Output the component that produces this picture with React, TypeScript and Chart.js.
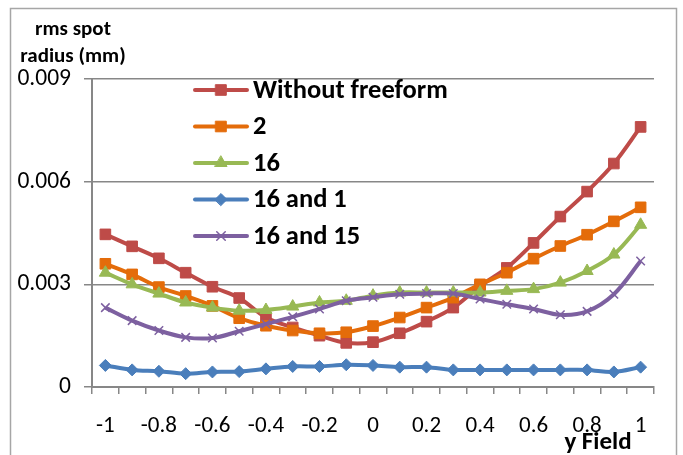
import React, { useEffect, useRef } from 'react';
import { Chart, registerables } from 'chart.js';
import { drawPoint } from 'chart.js/helpers';

Chart.register(...registerables);

// Normalised field positions along y
const fieldLabels = [
  '-1', '-0.9', '-0.8', '-0.7', '-0.6', '-0.5', '-0.4', '-0.3', '-0.2', '-0.1', '0',
  '0.1', '0.2', '0.3', '0.4', '0.5', '0.6', '0.7', '0.8', '0.9', '1',
];

// RMS spot radius (mm) for each surface configuration
const withoutFreeform = [
  0.00446, 0.00411, 0.00376, 0.00334, 0.00293, 0.0026, 0.00203, 0.00174, 0.0015, 0.00129, 0.00131,
  0.00157, 0.00191, 0.00232, 0.00295, 0.00348, 0.00421, 0.00498, 0.00571, 0.00653, 0.0076,
];
const surface2 = [
  0.0036, 0.00329, 0.00292, 0.00266, 0.00237, 0.00201, 0.00179, 0.00165, 0.00157, 0.0016, 0.00178,
  0.00203, 0.00232, 0.00261, 0.003, 0.00334, 0.00375, 0.00412, 0.00445, 0.00484, 0.00525,
];
const surface16 = [
  0.00334, 0.003, 0.00273, 0.00247, 0.00232, 0.00223, 0.00225, 0.00235, 0.00247, 0.00252, 0.00267,
  0.00276, 0.00276, 0.00276, 0.00276, 0.00281, 0.00286, 0.00305, 0.00339, 0.00387, 0.00474,
];
const surface16and1 = [
  0.00063, 0.0005, 0.00046, 0.00039, 0.00044, 0.00045, 0.00053, 0.0006, 0.0006, 0.00065, 0.00063,
  0.00058, 0.00058, 0.0005, 0.0005, 0.0005, 0.0005, 0.0005, 0.0005, 0.00044, 0.00058,
];
const surface16and15 = [
  0.00232, 0.00194, 0.00165, 0.00145, 0.00143, 0.00163, 0.00184, 0.00205, 0.00228, 0.00252, 0.00262,
  0.00271, 0.00273, 0.00273, 0.00257, 0.00242, 0.00228, 0.00211, 0.00221, 0.00271, 0.00368,
];

const yTicks = [0, 0.003, 0.006, 0.009];
const yTickLabels = ['0', '0.003', '0.006', '0.009'];

const seriesNames = ['Without freeform', '2', '16', '16 and 1', '16 and 15'];
const seriesColors = ['#BE4B48', '#E46C0A', '#98B954', '#4A7EBB', '#7D60A0'];
const seriesData = [withoutFreeform, surface2, surface16, surface16and1, surface16and15];
const seriesMarkers = ['rect', 'rect', 'triangle', 'rectRot', 'crossRot'];
const markerRadius = [7.5, 7.5, 7, 6, 6];

const FONT = 'Carlito, Lato, "Liberation Sans", sans-serif';
const GRID = '#878787';

const decorPlugin = {
  id: 'decor',
  afterDraw(chart: any) {
    const ctx = chart.ctx as CanvasRenderingContext2D;
    ctx.save();

    // outer frame
    ctx.strokeStyle = '#a6a6a6';
    ctx.lineWidth = 1.5;
    ctx.strokeRect(10.5, 8.5, 666, 470);

    // y axis title
    ctx.fillStyle = '#000';
    ctx.font = `bold 21px ${FONT}`;
    ctx.textAlign = 'center';
    ctx.textBaseline = 'alphabetic';
    ctx.fillText('rms spot', 73, 35);
    ctx.fillText('radius (mm)', 73, 62);

    // x axis title
    ctx.font = `bold 25px ${FONT}`;
    ctx.fillText('y Field', 598, 449);

    // legend
    const rows = [90, 126.5, 163, 199.5, 236];
    seriesNames.forEach((name, i) => {
      const y = rows[i];
      ctx.strokeStyle = seriesColors[i];
      ctx.fillStyle = seriesColors[i];
      ctx.lineWidth = 4;
      ctx.lineCap = 'round';
      ctx.beginPath();
      ctx.moveTo(195, y);
      ctx.lineTo(247, y);
      ctx.stroke();
      ctx.lineWidth = seriesMarkers[i] === 'crossRot' ? 1.5 : 1;
      drawPoint(ctx, { pointStyle: seriesMarkers[i], radius: markerRadius[i], rotation: 0, borderWidth: ctx.lineWidth } as any, 221, y);
      ctx.fillStyle = '#000';
      ctx.font = `bold 26.5px ${FONT}`;
      ctx.textAlign = 'left';
      ctx.textBaseline = 'middle';
      ctx.fillText(name, 253, y + 1);
    });

    ctx.restore();
  },
};

export default function App() {
  const canvasRef = useRef<HTMLCanvasElement | null>(null);

  useEffect(() => {
    document.body.style.margin = '0';
    const canvas = canvasRef.current;
    if (!canvas) return;

    const chart = new Chart(canvas, {
      type: 'line',
      data: {
        labels: fieldLabels,
        datasets: seriesData.map((data, i) => ({
          label: seriesNames[i],
          data,
          borderColor: seriesColors[i],
          backgroundColor: seriesColors[i],
          borderWidth: 4,
          tension: 0.35,
          pointStyle: seriesMarkers[i] as any,
          pointRadius: markerRadius[i],
          pointBorderWidth: seriesMarkers[i] === 'crossRot' ? 1.5 : 1,
          pointBorderColor: seriesColors[i],
          pointBackgroundColor: seriesColors[i],
          order: seriesData.length - i,
          fill: false,
        })),
      },
      options: {
        responsive: false,
        animation: false,
        layout: { padding: { left: 0, top: 79, right: 29, bottom: 0 } },
        plugins: {
          legend: { display: false },
          tooltip: { enabled: false },
        },
        scales: {
          x: {
            type: 'category',
            offset: true,
            grid: {
              offset: true,
              drawOnChartArea: false,
              drawTicks: true,
              tickLength: 7,
              color: GRID,
              lineWidth: 1.5,
            },
            border: { color: GRID, width: 2 },
            ticks: {
              autoSkip: false,
              maxRotation: 0,
              padding: 18,
              color: '#000',
              font: { family: FONT, size: 23 },
              callback: (_v: any, i: number) => (i % 2 === 0 ? fieldLabels[i] : ''),
            },
            afterFit: (scale: any) => {
              scale.height = 68;
            },
          },
          y: {
            min: 0,
            max: 0.009,
            grid: { color: GRID, lineWidth: 1.5, tickLength: 8 },
            border: { color: GRID, width: 2 },
            afterBuildTicks: (scale: any) => {
              scale.ticks = yTicks.map((v) => ({ value: v }));
            },
            ticks: {
              padding: 13,
              color: '#000',
              font: { family: FONT, size: 23.5 },
              callback: (v: any) => yTickLabels[yTicks.indexOf(Number(v))] ?? '',
            },
            afterFit: (scale: any) => {
              scale.width = 92;
            },
          },
        },
      },
      plugins: [decorPlugin],
    });

    return () => chart.destroy();
  }, []);

  return (
    <div style={{ position: 'fixed', left: 0, top: 0, width: 683, height: 455, background: '#fff' }}>
      <canvas ref={canvasRef} width={683} height={455} />
    </div>
  );
}
